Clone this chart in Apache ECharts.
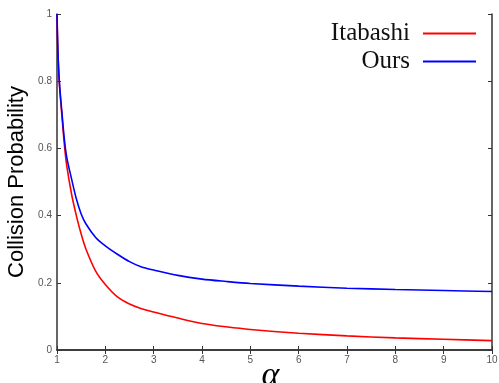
<!DOCTYPE html>
<html>
<head>
<meta charset="utf-8">
<script src="https://cdn.jsdelivr.net/npm/echarts@6/dist/echarts.min.js"></script>
<style>
  html, body { margin: 0; padding: 0; background: #fff; }
  #chart { width: 499px; height: 383px; }
</style>
</head>
<body>
<div id="chart"></div>
<script>
// alpha values and collision probabilities
const alphas = [1, 1.02, 1.05, 1.1, 1.15, 1.2, 1.3, 1.4, 1.5, 1.6, 1.8, 2, 2.25, 2.5, 2.75, 3, 3.5, 4, 4.5, 5, 6, 7, 8, 9, 10];
const itabashi = [1, 0.88, 0.79, 0.7, 0.615, 0.55, 0.465, 0.4, 0.345, 0.3, 0.235, 0.195, 0.158, 0.137, 0.123, 0.113, 0.095, 0.079, 0.069, 0.061, 0.05, 0.042, 0.036, 0.032, 0.028];
const ours = [1, 0.885, 0.795, 0.71, 0.63, 0.575, 0.51, 0.45, 0.405, 0.375, 0.335, 0.31, 0.285, 0.263, 0.247, 0.238, 0.222, 0.211, 0.204, 0.198, 0.19, 0.184, 0.18, 0.177, 0.174];

const xTicks = [1, 2, 3, 4, 5, 6, 7, 8, 9, 10];
const yTicks = [0, 0.2, 0.4, 0.6, 0.8, 1];

const pairs = (xs, ys) => xs.map((x, i) => [x, ys[i]]);

const chart = echarts.init(document.getElementById('chart'));

const tickStyle = { show: true, inside: true, length: 4, lineStyle: { color: '#333', width: 1 } };
const lineStyle = { show: true, lineStyle: { color: '#333', width: 1.5 } };

chart.setOption({
  animation: false,
  grid: { left: 57, right: 7, top: 14, bottom: 33, outerBoundsMode: 'none', containLabel: false },
  legend: {
    orient: 'vertical',
    right: 23,
    top: 21,
    padding: 0,
    align: 'right',
    itemGap: 3,
    itemWidth: 53,
    itemHeight: 2,
    icon: 'rect',
    textStyle: {
      fontFamily: 'Liberation Serif',
      fontSize: 25,
      color: '#111',
      padding: [0, 8, 0, 0]
    },
    data: ['Itabashi', 'Ours']
  },
  xAxis: [
    {
      type: 'value',
      min: xTicks[0],
      max: xTicks[xTicks.length - 1],
      interval: 1,
      name: 'α',
      nameLocation: 'middle',
      nameMoveOverlap: false,
      nameGap: 26,
      nameTextStyle: {
        fontFamily: 'Liberation Serif', fontStyle: 'italic', fontSize: 34, color: '#000',
        verticalAlign: 'middle', padding: [0, 8, 0, 0]
      },
      axisLine: lineStyle,
      axisTick: tickStyle,
      axisLabel: { color: '#555', fontSize: 10, margin: 5, fontFamily: 'Liberation Sans' },
      splitLine: { show: false }
    },
    {
      type: 'value',
      position: 'top',
      min: xTicks[0],
      max: xTicks[xTicks.length - 1],
      interval: 1,
      axisLine: lineStyle,
      axisTick: tickStyle,
      axisLabel: { show: false },
      splitLine: { show: false }
    }
  ],
  yAxis: [
    {
      type: 'value',
      min: yTicks[0],
      max: yTicks[yTicks.length - 1],
      interval: 0.2,
      name: 'Collision Probability',
      nameLocation: 'middle',
      nameMoveOverlap: false,
      nameGap: 29,
      nameTextStyle: { fontFamily: 'Liberation Sans', fontSize: 22, color: '#000' },
      axisLine: lineStyle,
      axisTick: tickStyle,
      axisLabel: { color: '#555', fontSize: 10, margin: 5, fontFamily: 'Liberation Sans' },
      splitLine: { show: false }
    },
    {
      type: 'value',
      position: 'right',
      min: yTicks[0],
      max: yTicks[yTicks.length - 1],
      interval: 0.2,
      axisLine: lineStyle,
      axisTick: tickStyle,
      axisLabel: { show: false },
      splitLine: { show: false }
    }
  ],
  series: [
    {
      name: 'Itabashi',
      type: 'line',
      smooth: 0.3,
      showSymbol: false,
      color: '#ff0000',
      lineStyle: { width: 1.6 },
      data: pairs(alphas, itabashi)
    },
    {
      name: 'Ours',
      type: 'line',
      smooth: 0.3,
      showSymbol: false,
      color: '#0000ff',
      lineStyle: { width: 1.6 },
      data: pairs(alphas, ours)
    }
  ]
});
</script>
</body>
</html>
